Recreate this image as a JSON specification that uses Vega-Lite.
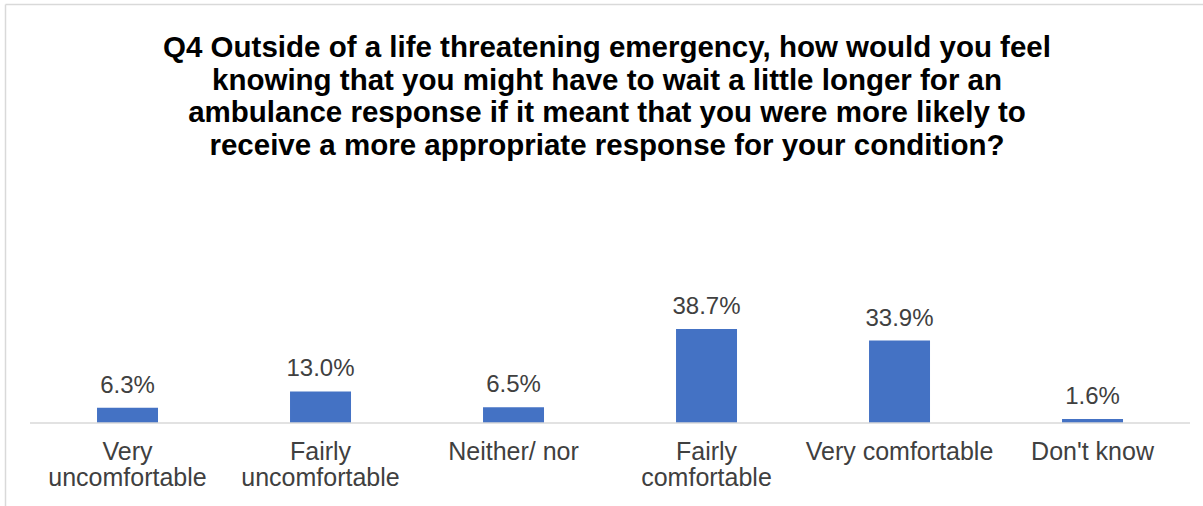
{
  "$schema": "https://vega.github.io/schema/vega-lite/v6.json",
  "autosize": "none",
  "width": 1198,
  "height": 502,
  "padding": {"left": 5, "top": 4, "right": 0, "bottom": 0},
  "background": "white",
  "title": {
    "text": [
      "Q4 Outside of a life threatening emergency, how would you feel",
      "knowing that you might have to wait a little longer for an",
      "ambulance response if it meant that you were more likely to",
      "receive a more appropriate response for your condition?"
    ],
    "anchor": "middle",
    "orient": "top",
    "offset": -157,
    "fontSize": 29.5,
    "lineHeight": 32.5,
    "font": "Liberation Sans",
    "fontWeight": "bold",
    "color": "#000000",
    "dx": 3
  },
  "data": {
    "values": [
      {"response": "Very uncomfortable", "pct": 6.3},
      {"response": "Fairly uncomfortable", "pct": 13.0},
      {"response": "Neither/ nor", "pct": 6.5},
      {"response": "Fairly comfortable", "pct": 38.7},
      {"response": "Very comfortable", "pct": 33.9},
      {"response": "Don't know", "pct": 1.6}
    ]
  },
  "layer": [
    {
      "layer": [
        {
          "mark": {"type": "bar", "color": "#4472C4"},
          "encoding": {
            "x": {
              "field": "response",
              "type": "nominal",
              "sort": null,
              "scale": {"paddingInner": 0.684, "paddingOuter": 0.4456, "align": 0.535},
              "axis": {
                "orient": "bottom",
                "offset": -83,
                "title": null,
                "domain": false,
                "ticks": false,
                "tickSize": 0,
                "grid": false,
                "labelPadding": 16,
                "labelAngle": 0,
                "labelFontSize": 25,
                "labelFont": "Liberation Sans",
                "labelColor": "#404040",
                "labelLineHeight": 26,
                "labelBaseline": "top",
                "labelLimit": 400,
                "labelOverlap": false,
                "labelExpr": "datum.label == 'Very uncomfortable' || datum.label == 'Fairly uncomfortable' || datum.label == 'Fairly comfortable' ? split(datum.label, ' ') : datum.label"
              }
            },
            "y": {
              "field": "pct",
              "type": "quantitative",
              "scale": {"domain": [-34.16, 172.43], "nice": false, "zero": false},
              "axis": {"title": null, "labels": false, "ticks": false, "grid": false, "domainColor": "#d9d9d9", "domainWidth": 1.5}
            },
            "y2": {"datum": 0}
          }
        },
        {
          "transform": [{"calculate": "format(datum.pct, '.1f') + '%'", "as": "label"}],
          "mark": {"type": "text", "dy": -15, "baseline": "alphabetic", "fontSize": 24, "font": "Liberation Sans", "color": "#404040"},
          "encoding": {
            "x": {"field": "response", "type": "nominal", "sort": null},
            "y": {"field": "pct", "type": "quantitative"},
            "text": {"field": "label", "type": "nominal"}
          }
        }
      ]
    },
    {
      "data": {"values": [{"base": 0}]},
      "mark": {"type": "rule", "color": "#d9d9d9", "strokeWidth": 1.3},
      "encoding": {
        "x": {
          "datum": 0,
          "type": "quantitative",
          "scale": {"domain": [-0.02155, 1.01121], "nice": false, "zero": false},
          "axis": {"orient": "top", "title": null, "labels": false, "ticks": false, "grid": false, "domainColor": "#d9d9d9", "domainWidth": 1.5}
        },
        "x2": {"datum": 1},
        "y": {"field": "base", "type": "quantitative"}
      }
    }
  ],
  "resolve": {"scale": {"x": "independent"}, "axis": {"x": "independent"}},
  "config": {
    "view": {"stroke": null},
    "axisY": {"labels": false, "ticks": false, "grid": false, "title": null, "domainColor": "#d9d9d9", "domainWidth": 1.5}
  }
}
